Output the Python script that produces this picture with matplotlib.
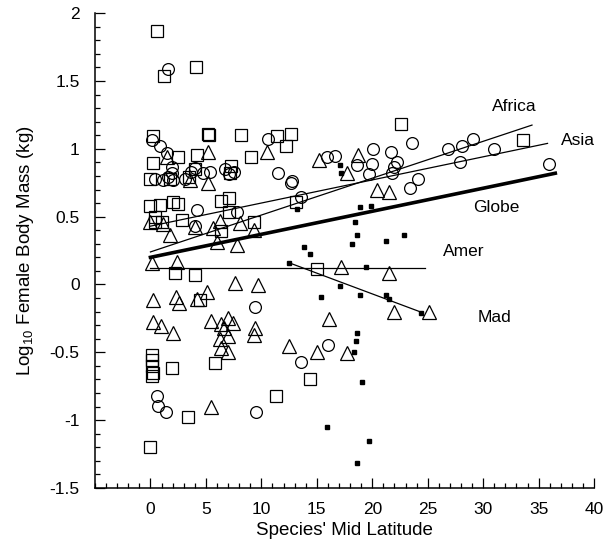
import matplotlib
matplotlib.use("Agg")
import matplotlib.pyplot as plt
from matplotlib.ticker import MultipleLocator

plt.rcParams['font.family'] = ['Liberation Sans', 'DejaVu Sans']
plt.rcParams['mathtext.default'] = 'regular'

# Africa (open squares)
africa_x = [0.56, 1.2, 4.1, 0.2, 5.2, 5.3, 8.2, 2.5, 4.2, 9.1, 0.25, 0.0, 1.76, 3.5, 4.0,
            7.3, 7.2, 0.0, 0.86, 2.06, 2.5, 6.4, 7.1, 0.4, 0.4, 1.0, 2.8, 7.1, 6.4, 9.3,
            11.4, 12.7, 12.2, 22.6, 13.1, 33.6, 2.2, 4.0, 4.5, 15.0, 0.1, 0.1, 0.1, 0.2,
            0.1, 1.9, 5.8, 14.4, 11.3, 3.4, 0.0]
africa_y = [1.87, 1.54, 1.60, 1.094, 1.11, 1.10, 1.10, 0.937, 0.954, 0.937, 0.898, 0.78,
            0.775, 0.795, 0.849, 0.873, 0.82, 0.579, 0.586, 0.61, 0.594, 0.618, 0.635, 0.5,
            0.463, 0.463, 0.476, 0.537, 0.397, 0.463, 1.094, 1.107, 1.02, 1.18, 0.61, 1.065,
            0.083, 0.07, -0.113, 0.113, -0.518, -0.555, -0.6, -0.653, -0.673, -0.616, -0.575,
            -0.70, -0.825, -0.977, -1.198]

# Asia (open circles)
asia_x = [1.6, 0.1, 0.86, 1.46, 1.9, 0.4, 1.15, 1.6, 2.06, 3.1, 3.7, 4.0, 4.76, 5.4, 6.7,
          7.1, 7.5, 1.9, 4.2, 4.0, 7.8, 10.6, 11.5, 12.8, 12.7, 13.6, 15.9, 16.6, 18.6,
          20.1, 20.0, 19.7, 21.7, 22.2, 22.0, 21.8, 23.55, 24.1, 23.4, 26.8, 28.1, 29.05,
          31.0, 27.9, 35.9, 9.4, 16.0, 13.6, 9.5, 0.56, 0.7, 1.4]
asia_y = [1.59, 1.065, 1.02, 0.971, 0.868, 0.78, 0.77, 0.795, 0.77, 0.775, 0.83, 0.856,
          0.82, 0.83, 0.85, 0.815, 0.83, 0.82, 0.55, 0.43, 0.537, 1.07, 0.824, 0.763, 0.75,
          0.647, 0.937, 0.947, 0.88, 1.0, 0.886, 0.815, 0.974, 0.905, 0.868, 0.82, 1.045,
          0.775, 0.714, 1.0, 1.02, 1.07, 1.0, 0.905, 0.888, -0.167, -0.445, -0.568, -0.94,
          -0.82, -0.894, -0.943]

# Americas (open triangles)
amer_x = [5.2, 10.5, 1.46, 5.2, 3.56, 15.2, 18.7, 17.7, 20.4, 21.5, 0.0, 1.15, 1.76, 4.0,
          5.66, 6.3, 8.1, 9.3, 6.0, 7.8, 0.1, 2.36, 7.6, 9.7, 0.25, 2.3, 2.6, 4.2, 5.1,
          0.25, 0.95, 2.0, 5.5, 6.4, 7.0, 7.4, 6.6, 6.3, 7.0, 6.4, 7.0, 9.4, 9.3, 5.45,
          17.2, 21.5, 22.0, 25.1, 16.1, 12.5, 15.0, 17.7]
amer_y = [0.98, 0.98, 0.94, 0.746, 0.77, 0.917, 0.954, 0.82, 0.70, 0.684, 0.463, 0.446,
          0.365, 0.426, 0.415, 0.47, 0.45, 0.40, 0.316, 0.29, 0.157, 0.168, 0.014, -0.003,
          -0.118, -0.094, -0.133, -0.108, -0.057, -0.273, -0.305, -0.354, -0.266, -0.29,
          -0.248, -0.285, -0.32, -0.40, -0.383, -0.47, -0.494, -0.32, -0.37, -0.904,
          0.127, 0.088, -0.2, -0.2, -0.253, -0.45, -0.494, -0.506]

# Madagascar (small filled squares)
mad_x = [17.1, 17.15, 18.9, 19.9, 18.4, 18.6, 18.2, 21.2, 22.9, 13.8, 14.4, 12.5, 19.4,
         17.1, 15.4, 18.9, 21.2, 21.5, 24.4, 18.6, 18.5, 18.35, 19.1, 15.9, 19.7, 18.6, 13.2]
mad_y = [0.88, 0.82, 0.57, 0.58, 0.46, 0.365, 0.30, 0.32, 0.365, 0.28, 0.225, 0.16, 0.13,
         -0.01, -0.09, -0.077, -0.077, -0.108, -0.207, -0.36, -0.42, -0.50, -0.72, -1.05,
         -1.15, -1.316, 0.56]

# fitted lines (end points)
fit_names = ["Africa", "Asia", "Globe", "Amer", "Mad"]
fit_x = [[0, 34.4], [0, 35.8], [0, 36.5], [0, 24.75], [12.6, 24.6]]
fit_y = [[0.24, 1.175], [0.43, 1.04], [0.2, 0.82], [0.125, 0.125], [0.157, -0.21]]
fit_lw = [0.9, 0.9, 2.6, 0.9, 0.9]
label_pos = [(32.8, 1.31), (38.5, 1.065), (31.2, 0.57), (28.2, 0.24), (31.0, -0.245)]

fig = plt.figure(figsize=(6.05, 5.48), dpi=100)
ax = fig.add_axes([0.157, 0.1095, 0.825, 0.8665])

mk = dict(linestyle='none', markerfacecolor='none', markeredgecolor='black', markeredgewidth=0.9)
ax.plot(africa_x, africa_y, marker='s', markersize=8, **mk)
ax.plot(asia_x, asia_y, marker='o', markersize=8.5, **mk)
ax.plot(amer_x, amer_y, marker='^', markersize=9.5, **mk)
ax.plot(mad_x, mad_y, marker='s', markersize=3.3, linestyle='none', color='black')

for xs, ys, lw in zip(fit_x, fit_y, fit_lw):
    ax.plot(xs, ys, color='black', linewidth=lw)
for name, (tx, ty) in zip(fit_names, label_pos):
    ax.text(tx, ty, name, fontsize=12.5, ha='center', va='center')

ax.set_xlim(-5, 40)
ax.set_ylim(-1.5, 2)
ax.set_xticks([0, 5, 10, 15, 20, 25, 30, 35, 40])
ax.xaxis.set_minor_locator(MultipleLocator(1))
ax.set_yticks([-1.5, -1, -0.5, 0, 0.5, 1, 1.5, 2])
ax.set_yticklabels(["-1.5", "-1", "-0.5", "0", "0.5", "1", "1.5", "2"])
ax.yaxis.set_minor_locator(MultipleLocator(0.1))
ax.tick_params(which='both', direction='in', labelsize=12.5, width=0.9)
ax.tick_params(which='major', length=7)
ax.tick_params(which='minor', length=3.5)
ax.tick_params(axis='x', pad=10)
ax.tick_params(axis='y', pad=11)
ax.spines['top'].set_visible(False)
ax.spines['right'].set_visible(False)
ax.spines['left'].set_linewidth(1.1)
ax.spines['bottom'].set_linewidth(1.1)

ax.set_xlabel("Species' Mid Latitude", fontsize=13.5, labelpad=4)
ax.set_ylabel("Log$_{10}$ Female Body Mass (kg)", fontsize=13.5, labelpad=10)

fig.savefig("out.png", dpi=100)
